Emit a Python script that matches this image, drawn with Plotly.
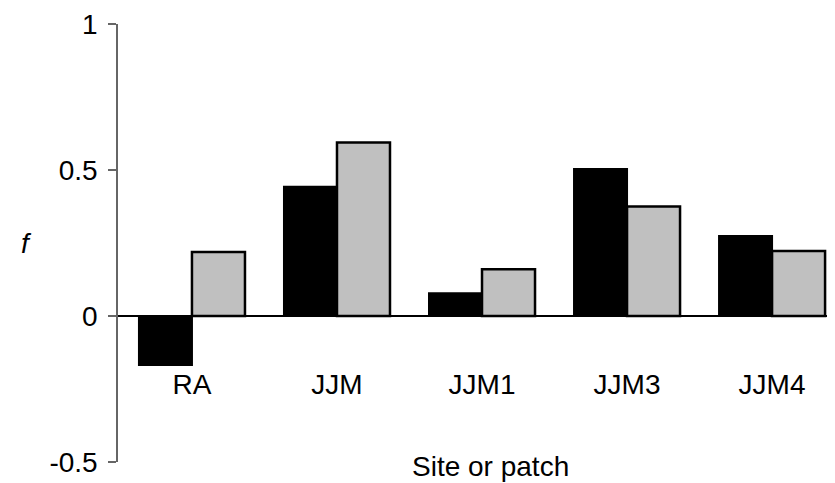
import plotly.graph_objects as go

categories = ["RA", "JJM", "JJM1", "JJM3", "JJM4"]
series_black = [-0.168, 0.443, 0.078, 0.503, 0.274]
series_gray = [0.219, 0.594, 0.160, 0.375, 0.223]
y_ticks = [-0.5, 0, 0.5, 1]
y_tick_labels = ["-0.5", "0", "0.5", "1"]

FONT = "Liberation Sans, Arial, sans-serif"

fig = go.Figure()
fig.add_trace(go.Bar(x=categories, y=series_black, name="A",
                     marker=dict(color="black", line=dict(color="black", width=2))))
fig.add_trace(go.Bar(x=categories, y=series_gray, name="B",
                     marker=dict(color="#c0c0c0", line=dict(color="black", width=2.5))))

# page body adds an 8px margin, so the figure is sized/offset to compensate
fig.update_layout(
    width=827, height=475,
    margin=dict(l=110, r=0, t=16, b=21),
    paper_bgcolor="white", plot_bgcolor="white",
    barmode="group", bargap=0.269, bargroupgap=0,
    showlegend=False,
    font=dict(family=FONT, size=28, color="black"),
    xaxis=dict(
        type="category", range=[-0.51, 4.434],
        anchor="free", position=1/3,
        showline=True, linecolor="black", linewidth=1.5,
        ticks="", showgrid=False, zeroline=False,
        ticklabelstandoff=44,
        tickfont=dict(family=FONT, size=28, color="black"),
    ),
    yaxis=dict(
        range=[-0.5, 1], tickvals=y_ticks, ticktext=y_tick_labels,
        showline=True, linecolor="#666666", linewidth=1.5,
        ticks="outside", ticklen=8, tickcolor="#666666", tickwidth=1.5,
        showgrid=False, zeroline=False,
        ticklabelstandoff=5,
        tickfont=dict(family=FONT, size=28, color="black"),
    ),
    annotations=[
        dict(text="Site or patch", xref="paper", yref="paper", x=0.52, y=0,
             xanchor="center", yanchor="middle", yshift=-4, showarrow=False,
             font=dict(family=FONT, size=28, color="black")),
        dict(text="<i>f</i>", xref="paper", yref="paper", x=-0.128, y=0.5,
             xanchor="center", yanchor="middle", showarrow=False,
             font=dict(family=FONT, size=28, color="black")),
    ],
)

fig.write_html("out.html")
